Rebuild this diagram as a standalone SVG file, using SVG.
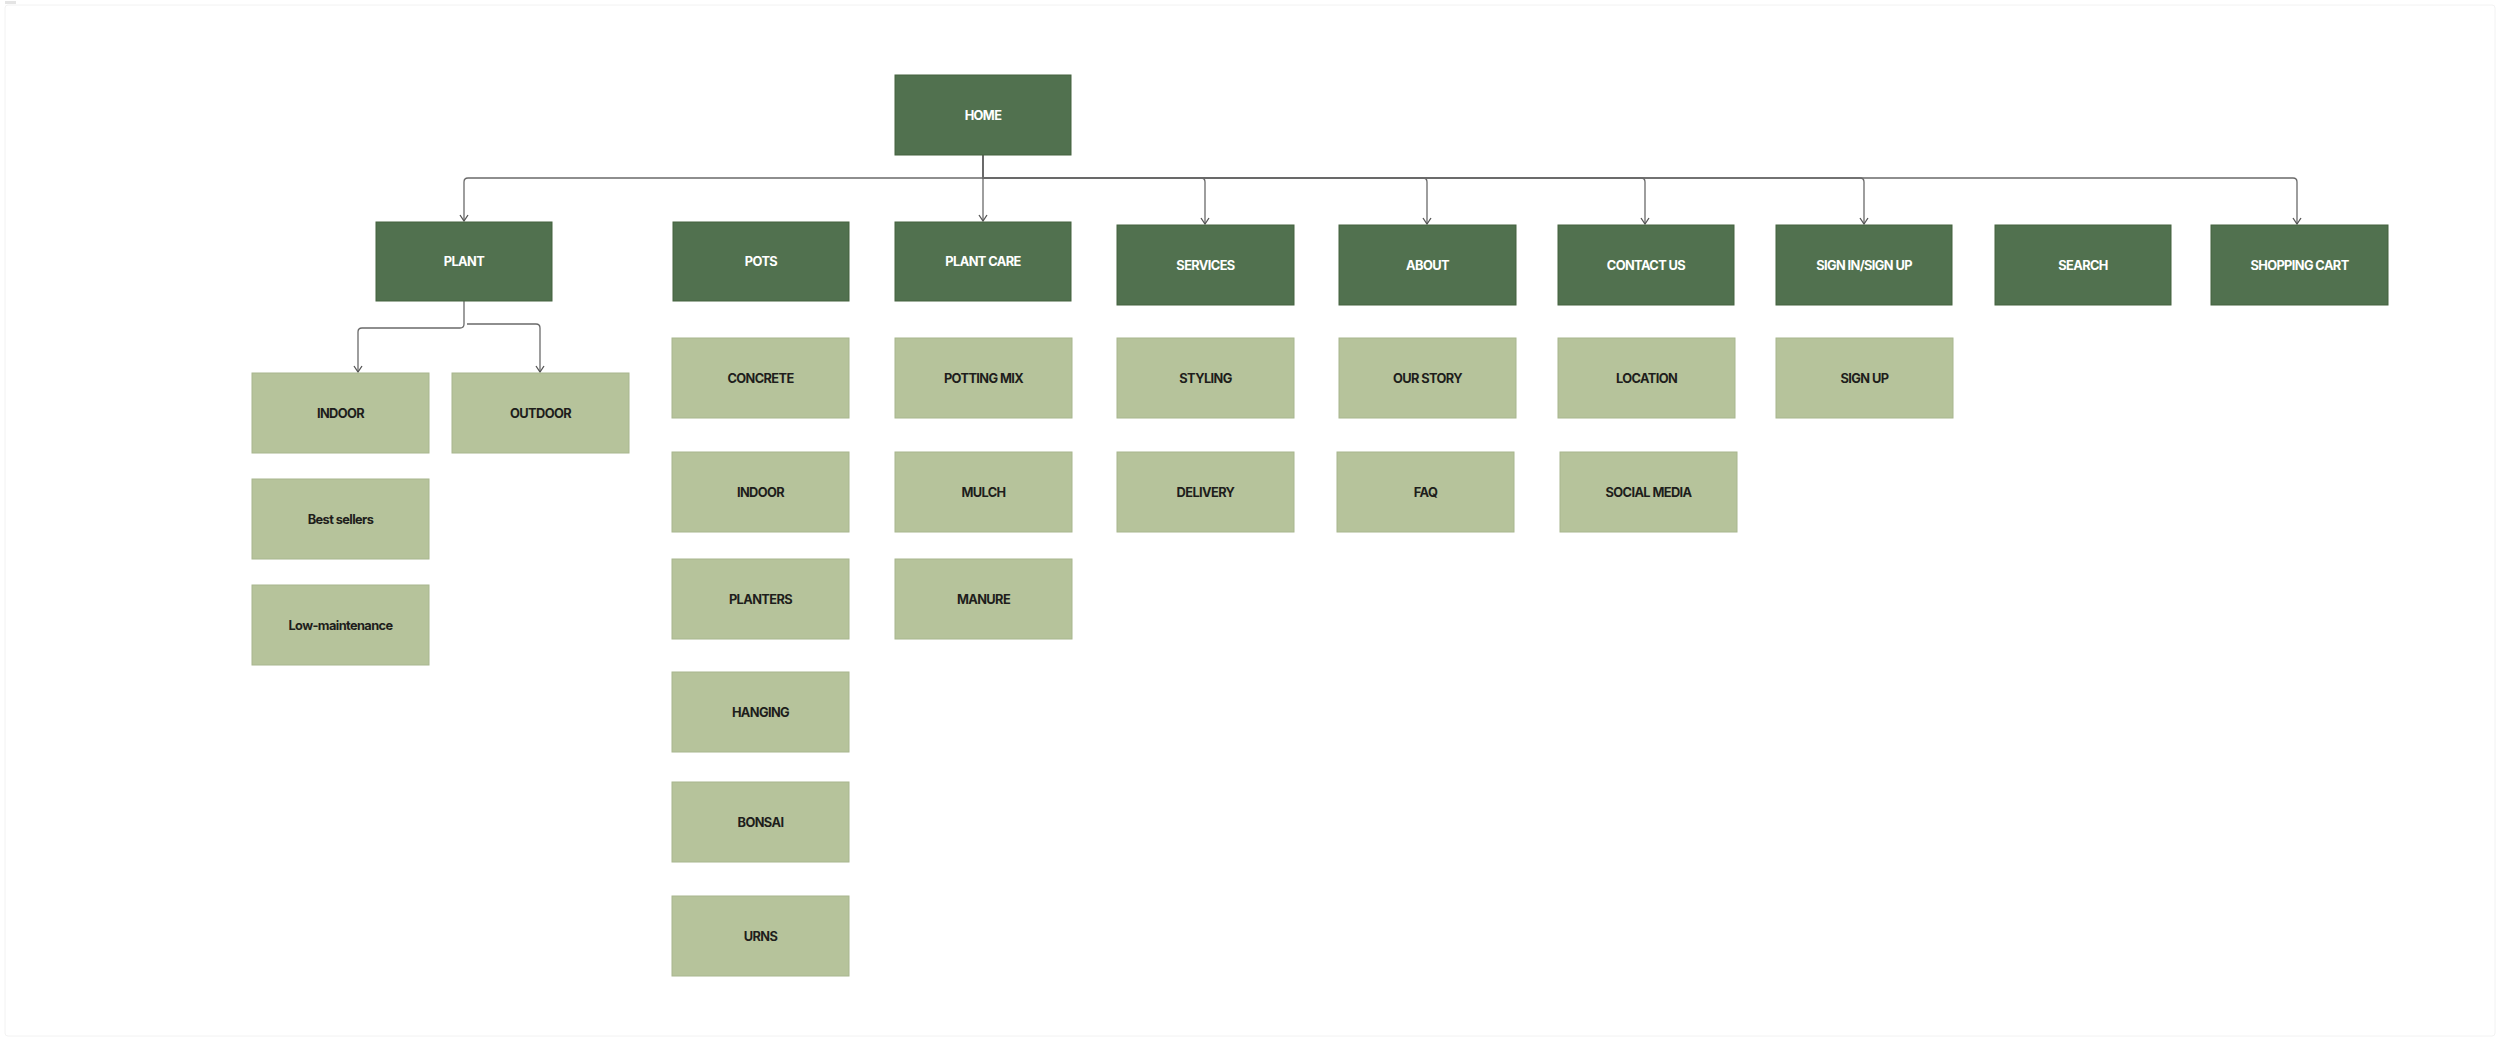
<svg xmlns="http://www.w3.org/2000/svg" width="2500" height="1042" viewBox="0 0 2500 1042">
<defs>
<style>
.d rect{fill:#51714f;stroke:#44633f;stroke-width:1}
.l rect{fill:#b6c39b;stroke:#a8b68e;stroke-width:1}
text{font-family:Inter,"Noto Sans","Liberation Sans",sans-serif;font-weight:700;font-size:12.8px;letter-spacing:-0.6px;text-anchor:middle;dominant-baseline:central}
.d text{fill:#ffffff}
.l text{fill:#1e1e1c}
.c path{fill:none;stroke:#6a6a6a;stroke-width:1.3}
</style>
<marker id="ah" viewBox="0 0 8 10" refX="7" refY="5" markerWidth="8" markerHeight="10" markerUnits="userSpaceOnUse" orient="auto">
<path d="M1,1 L7,5 L1,9" fill="none" stroke="#555" stroke-width="1.3"/>
</marker>
</defs>
<rect x="0" y="0" width="2500" height="1042" fill="#ffffff"/>
<rect x="5" y="5" width="2490" height="1031" rx="3" fill="#ffffff" stroke="#f2f2f2" stroke-width="1"/>
<rect x="5" y="1" width="11" height="3" fill="#e4e4e4"/>
<g class="c">
<path d="M983 155 V221" marker-end="url(#ah)"/>
<path d="M983 155 V178 H468 Q464 178 464 182 V221" marker-end="url(#ah)"/>
<path d="M983 155 V178 H1201 Q1205 178 1205 182 V224" marker-end="url(#ah)"/>
<path d="M983 155 V178 H1423 Q1427 178 1427 182 V224" marker-end="url(#ah)"/>
<path d="M983 155 V178 H1641 Q1645 178 1645 182 V224" marker-end="url(#ah)"/>
<path d="M983 155 V178 H1860 Q1864 178 1864 182 V224" marker-end="url(#ah)"/>
<path d="M983 155 V178 H2293 Q2297 178 2297 182 V224" marker-end="url(#ah)"/>
<path d="M464 301 V324 Q464 328 460 328 H362 Q358 328 358 332 V372" marker-end="url(#ah)"/>
<path d="M467 324 H536 Q540 324 540 328 V372" marker-end="url(#ah)"/>
</g>
<g id="home" class="d"><rect x="895" y="75" width="176" height="80"/><text x="983" y="115">HOME</text></g>
<g id="plant" class="d"><rect x="376" y="222" width="176" height="79"/><text x="464" y="261.5">PLANT</text></g>
<g id="pots" class="d"><rect x="673" y="222" width="176" height="79"/><text x="761" y="261.5">POTS</text></g>
<g id="plant-care" class="d"><rect x="895" y="222" width="176" height="79"/><text x="983" y="261.5">PLANT CARE</text></g>
<g id="services" class="d"><rect x="1117" y="225" width="177" height="80"/><text x="1205.5" y="265">SERVICES</text></g>
<g id="about" class="d"><rect x="1339" y="225" width="177" height="80"/><text x="1427.5" y="265">ABOUT</text></g>
<g id="contact-us" class="d"><rect x="1558" y="225" width="176" height="80"/><text x="1646" y="265">CONTACT US</text></g>
<g id="sign-in" class="d"><rect x="1776" y="225" width="176" height="80"/><text x="1864" y="265">SIGN IN/SIGN UP</text></g>
<g id="search" class="d"><rect x="1995" y="225" width="176" height="80"/><text x="2083" y="265">SEARCH</text></g>
<g id="shopping-cart" class="d"><rect x="2211" y="225" width="177" height="80"/><text x="2299.5" y="265">SHOPPING CART</text></g>
<g id="plant-indoor" class="l"><rect x="252" y="373" width="177" height="80"/><text x="340.5" y="413">INDOOR</text></g>
<g id="plant-outdoor" class="l"><rect x="452" y="373" width="177" height="80"/><text x="540.5" y="413">OUTDOOR</text></g>
<g id="best-sellers" class="l"><rect x="252" y="479" width="177" height="80"/><text x="340.5" y="519">Best sellers</text></g>
<g id="low-maintenance" class="l"><rect x="252" y="585" width="177" height="80"/><text x="340.5" y="625">Low-maintenance</text></g>
<g id="concrete" class="l"><rect x="672" y="338" width="177" height="80"/><text x="760.5" y="378">CONCRETE</text></g>
<g id="pots-indoor" class="l"><rect x="672" y="452" width="177" height="80"/><text x="760.5" y="492">INDOOR</text></g>
<g id="planters" class="l"><rect x="672" y="559" width="177" height="80"/><text x="760.5" y="599">PLANTERS</text></g>
<g id="hanging" class="l"><rect x="672" y="672" width="177" height="80"/><text x="760.5" y="712">HANGING</text></g>
<g id="bonsai" class="l"><rect x="672" y="782" width="177" height="80"/><text x="760.5" y="822">BONSAI</text></g>
<g id="urns" class="l"><rect x="672" y="896" width="177" height="80"/><text x="760.5" y="936">URNS</text></g>
<g id="potting-mix" class="l"><rect x="895" y="338" width="177" height="80"/><text x="983.5" y="378">POTTING MIX</text></g>
<g id="mulch" class="l"><rect x="895" y="452" width="177" height="80"/><text x="983.5" y="492">MULCH</text></g>
<g id="manure" class="l"><rect x="895" y="559" width="177" height="80"/><text x="983.5" y="599">MANURE</text></g>
<g id="styling" class="l"><rect x="1117" y="338" width="177" height="80"/><text x="1205.5" y="378">STYLING</text></g>
<g id="delivery" class="l"><rect x="1117" y="452" width="177" height="80"/><text x="1205.5" y="492">DELIVERY</text></g>
<g id="our-story" class="l"><rect x="1339" y="338" width="177" height="80"/><text x="1427.5" y="378">OUR STORY</text></g>
<g id="faq" class="l"><rect x="1337" y="452" width="177" height="80"/><text x="1425.5" y="492">FAQ</text></g>
<g id="location" class="l"><rect x="1558" y="338" width="177" height="80"/><text x="1646.5" y="378">LOCATION</text></g>
<g id="social-media" class="l"><rect x="1560" y="452" width="177" height="80"/><text x="1648.5" y="492">SOCIAL MEDIA</text></g>
<g id="sign-up" class="l"><rect x="1776" y="338" width="177" height="80"/><text x="1864.5" y="378">SIGN UP</text></g>
</svg>
